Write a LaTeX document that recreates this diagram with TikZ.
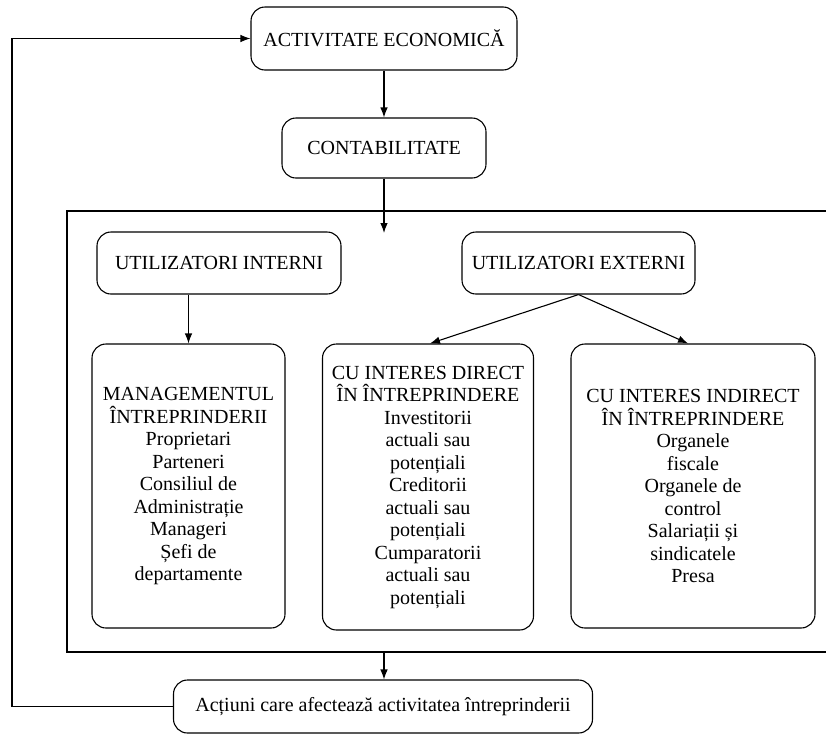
\documentclass[tikz,border=0pt]{standalone}
\usepackage{fontspec}
\setmainfont{Liberation Serif}
\usetikzlibrary{arrows.meta}
\begin{document}
\begin{tikzpicture}[x=1pt,y=-1pt,
  box/.style={draw, line width=1.1pt, rounded corners=14pt, align=center,
    inner sep=0pt, font=\fontsize{20}{22.5}\selectfont},
  arr/.style={line width=1.1pt, -{Latex[length=10pt,width=7.5pt]}},
  plain/.style={line width=1.1pt}]
\useasboundingbox (0,0) rectangle (826,734);

% top of the chain
\node[box, minimum width=266pt, minimum height=63pt] (act) at (384,38.5) {ACTIVITATE ECONOMICĂ};
\node[box, minimum width=204pt, minimum height=60pt] (cont) at (384,148) {CONTABILITATE};

% frame holding the users of accounting information
\coordinate (ftopin) at (384,233);
\coordinate (fbot) at (384,652);
\draw[plain] (840,211) -- (67,211) -- (67,652) -- (840,652);

\node[box, minimum width=244pt, minimum height=62pt] (int) at (219,263) {UTILIZATORI INTERNI};
\node[box, minimum width=233pt, minimum height=62pt] (ext) at (578.5,263) {UTILIZATORI EXTERNI};

\node[box, minimum width=193pt, minimum height=284pt] (mgmt) at (188.5,486)
  {MANAGEMENTUL\\ÎNTREPRINDERII\\Proprietari\\Parteneri\\Consiliul de\\Administrație\\Manageri\\Șefi de\\departamente};
\node[box, minimum width=211pt, minimum height=286pt] (dir) at (428,487)
  {CU INTERES DIRECT\\ÎN ÎNTREPRINDERE\\Investitorii\\actuali sau\\potențiali\\Creditorii\\actuali sau\\potențiali\\Cumparatorii\\actuali sau\\potențiali};
\node[box, minimum width=244pt, minimum height=284pt] (ind) at (693,486)
  {CU INTERES INDIRECT\\ÎN ÎNTREPRINDERE\\Organele\\fiscale\\Organele de\\control\\Salariații și\\sindicatele\\Presa};

\node[box, minimum width=419pt, minimum height=53pt] (act2) at (383,706.5)
  {Acțiuni care afectează activitatea întreprinderii};

% connectors
\coordinate (loopx) at (12,400);
\draw[arr] (act.south) -- (cont.north);
\draw[arr] (cont.south) -- (ftopin);
\draw[arr] (int.south -| mgmt.north) -- (mgmt.north);
\draw[arr] (ext.south) -- ([xshift=2pt]dir.north);
\draw[arr] (ext.south) -- ([xshift=-5pt]ind.north);
\draw[arr] (fbot) -- (act2.north -| fbot);
\draw[arr] (act2.west) -| (loopx) |- (act.west);
\end{tikzpicture}
\end{document}
